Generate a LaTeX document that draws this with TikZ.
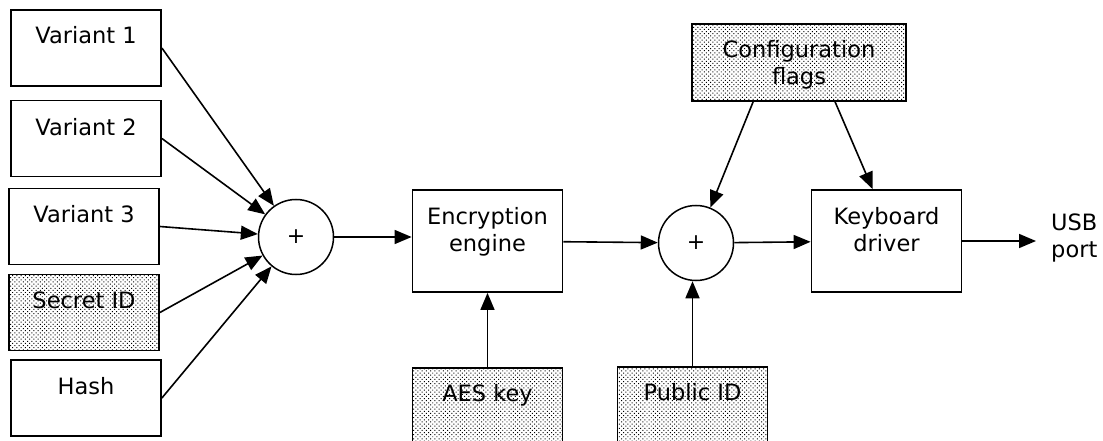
\documentclass[tikz,border=0pt]{standalone}
\usepackage{fontspec}
\setmainfont{DejaVu Sans}
\usetikzlibrary{arrows.meta,patterns.meta}

\tikzset{
  box/.style={draw, line width=1.8pt, minimum width=150pt, minimum height=76pt, inner sep=0pt},
  bigbox/.style={box, minimum height=102pt},
  dotbox/.style={box, pattern={Dots[angle=45, distance=3pt, radius=0.7pt]}},
  sumnode/.style={draw, circle, line width=1.5pt, minimum size=75pt, inner sep=0pt},
  txt/.style={align=center, inner sep=0pt, text height=16pt, text depth=5pt},
  arr/.style={line width=1.6pt, -{Triangle[length=17pt, width=14pt]}},
}

\begin{document}
\begin{tikzpicture}[x=1pt, y=-1pt, font=\fontsize{22.5}{27}\selectfont]
  \useasboundingbox (0,0) rectangle (1103,441);
  % inputs
  \node[box] (v1) at (86,48) {};
  \node[txt] (v1t) at (86,38) {Variant 1};
  \node[box] (v2) at (86,138.5) {};
  \node[txt] (v2t) at (86,130) {Variant 2};
  \node[box] (v3) at (84,226.5) {};
  \node[txt] (v3t) at (84,217) {Variant 3};
  \node[dotbox] (sid) at (84,312.5) {};
  \node[txt] (sidt) at (84,303) {Secret ID};
  \node[box] (hash) at (86,398) {};
  \node[txt] (hasht) at (86,389) {Hash};
  % adders
  \node[sumnode] (sum1) at (296,237) {\fontsize{22}{24}\selectfont +};
  \node[sumnode] (sum2) at (696,243) {\fontsize{22}{24}\selectfont +};
  % blocks
  \node[bigbox] (enc) at (487.5,241) {};
  \node[txt] (enct) at (487.5,246) {Encryption\\engine};
  \node[bigbox] (kbd) at (886.5,241) {};
  \node[txt] (kbdt) at (886.5,246) {Keyboard\\driver};
  \node[dotbox, minimum width=214pt, minimum height=77pt] (cfg) at (799,62.5) {};
  \node[txt] (cfgt) at (799,79) {Configuration\\flags};
  \node[dotbox, minimum height=80pt] (aes) at (487.5,408) {};
  \node[txt] (aest) at (487.5,396) {AES key};
  \node[dotbox, minimum height=80pt] (pub) at (692.5,407) {};
  \node[txt] (pubt) at (692.5,395) {Public ID};
  \node[txt, align=left, anchor=west, inner xsep=15pt] (usb) at (1036,252) {USB\\port};
  % connectors
  \draw[arr] (v1.east) -- (sum1);
  \draw[arr] (v2.east) -- (sum1);
  \draw[arr] (v3.east) -- (sum1);
  \draw[arr] (sid.east) -- (sum1);
  \draw[arr] (hash.east) -- (sum1);
  \draw[arr] (sum1.east) -- (sum1.east -| enc.west);
  \draw[arr] (enc) -- (sum2);
  \draw[arr] (aes.north) -- (enc.south);
  \draw[arr] (pub.north) -- (pub.north |- sum2.south);
  \draw[arr] ([xshift=62pt]cfg.south west) -- (sum2);
  \draw[arr] ([xshift=144pt]cfg.south west) -- ([xshift=62pt]kbd.north west);
  \draw[arr] (sum2) -- (kbd);
  \draw[arr] (kbd.east) -- (kbd.east -| usb.west);
\end{tikzpicture}
\end{document}
